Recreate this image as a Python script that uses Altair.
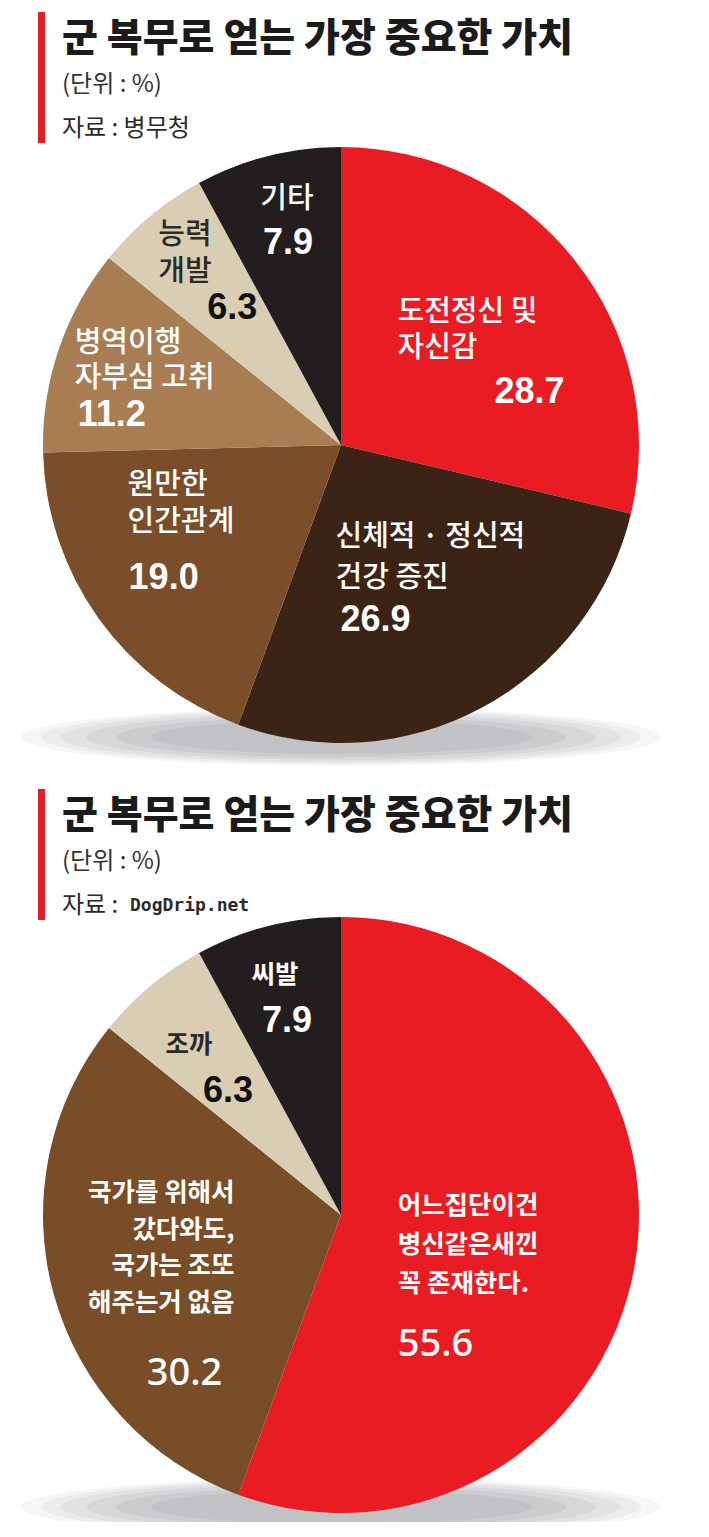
import altair as alt
import pandas as pd

# ---------------- data ----------------
title_text = "군 복무로 얻는 가장 중요한 가치"
unit_text = "(단위 : %)"
top_source_text = "자료 : 병무청"
source_prefix = "자료 : "
bot_source = "DogDrip.net"

top_names = ["도전정신 및\n자신감", "신체적 · 정신적\n건강 증진", "원만한\n인간관계",
             "병역이행\n자부심 고취", "능력\n개발", "기타"]
top_values = [28.7, 26.9, 19.0, 11.2, 6.3, 7.9]

bot_names = ["어느집단이건\n병신같은새낀\n꼭 존재한다.",
             "국가를 위해서\n갔다와도,\n국가는 조또\n해주는거 없음", "조까", "씨발"]
bot_values = [55.6, 30.2, 6.3, 7.9]

# ---------------- styles ----------------
top_colors = ["#E91C24", "#3B2415", "#7A4E2B", "#A87D54", "#D9CEB3", "#221E1F"]
bot_colors = ["#E91C24", "#7A4D29", "#D9CEB3", "#221E1F"]

W, H = 693, 1514
CX = 333
TOP_CY, BOT_CY, R = 437, 1207, 298
KR = "Noto Sans CJK KR"
NUM_BOLD = "Liberation Sans Narrow, Arial Narrow, Liberation Sans"
NUM_REG = "Noto Sans, Open Sans"
RED = "#E31E24"

# per-slice label layout: radius of anchor, name and value offsets
top_layout = [
    dict(r=160, n=dict(dx=-69, dy=-34, align="left", color="white", lh=36),
         v=dict(dx=63, dy=46, align="center", color="white")),
    dict(r=170, n=dict(dx=-86, dy=-58, align="left", color="white", lh=41),
         v=dict(dx=-81, dy=25, align="left", color="white")),
    dict(r=190, n=dict(dx=-59, dy=-71, align="left", color="white", lh=37),
         v=dict(dx=-58, dy=22, align="left", color="white")),
    dict(r=220, n=dict(dx=-58, dy=-31, align="left", color="white", lh=35),
         v=dict(dx=-55, dy=41, align="left", color="white")),
    dict(r=220, n=dict(dx=-42, dy=-41, align="left", color="#2a2a2a", lh=37),
         v=dict(dx=7, dy=32, align="left", color="#111111")),
    dict(r=220, n=dict(dx=0, dy=-33, align="center", color="white"),
         v=dict(dx=1, dy=11, align="center", color="white")),
]
bot_layout = [
    dict(r=150, n=dict(dx=-91, dy=-35, align="left", color="white", lh=39),
         v=dict(dx=-91, dy=104, align="left", color="white", font=NUM_REG, size=38, weight=500)),
    dict(r=180, n=dict(dx=67, dy=-70, align="right", color="white", lh=36.5),
         v=dict(dx=17, dy=111, align="center", color="white", font=NUM_REG, size=38, weight=500)),
    dict(r=200, n=dict(dx=-24, dy=-16, align="center", color="#2a2a2a"),
         v=dict(dx=15, dy=30, align="center", color="#111111")),
    dict(r=220, n=dict(dx=-12, dy=-27, align="center", color="white"),
         v=dict(dx=0, dy=19, align="center", color="white")),
]


def pie(names, values, colors, cy, layout, name_size, name_weight):
    df = pd.DataFrame({"idx": list(range(len(values))), "name": names,
                       "value": values, "color": colors})
    theta = alt.Theta("value:Q", stack=True)
    order = alt.Order("idx:Q", sort="ascending")
    layers = []
    # soft shadow under the pie
    ell = "M -1 0 A 1 0.09 0 1 1 1 0 A 1 0.09 0 1 1 -1 0 Z"
    for w, op in [(640, 0.06), (600, 0.07), (560, 0.08), (510, 0.09), (450, 0.10), (380, 0.10)]:
        layers.append(
            alt.Chart(pd.DataFrame({"s": [0]})).mark_point(
                shape=ell, filled=True, color="#6c6e78", opacity=op, size=w * w, strokeWidth=0
            ).encode(x=alt.value(CX), y=alt.value(cy + R - 6))
        )
    layers.append(
        alt.Chart(df).mark_arc(outerRadius=R, strokeWidth=0).encode(
            theta=theta, order=order,
            color=alt.Color("color:N", scale=None),
            x=alt.value(CX), y=alt.value(cy),
        )
    )
    for i, lay in enumerate(layout):
        n = lay["n"]
        layers.append(
            alt.Chart(df).transform_calculate(
                lbl=f"datum.idx == {i} ? datum.name : ''"
            ).mark_text(
                radius=lay["r"], dx=n["dx"], dy=n["dy"], align=n["align"], baseline="middle",
                lineBreak="\n", lineHeight=n.get("lh", 37), font=KR,
                fontSize=name_size, fontWeight=name_weight, color=n["color"],
            ).encode(theta=theta, order=order, text="lbl:N",
                     x=alt.value(CX), y=alt.value(cy))
        )
        v = lay["v"]
        layers.append(
            alt.Chart(df).transform_calculate(
                vl=f"datum.idx == {i} ? format(datum.value, '.1f') : ''"
            ).mark_text(
                radius=lay["r"], dx=v["dx"], dy=v["dy"], align=v["align"], baseline="middle",
                font=v.get("font", NUM_BOLD), fontSize=v.get("size", 36),
                fontWeight=v.get("weight", "bold"), color=v["color"],
            ).encode(theta=theta, order=order, text="vl:N",
                     x=alt.value(CX), y=alt.value(cy))
        )
    return layers


def header(y0, parts):
    one = pd.DataFrame({"t": [0]})
    ls = []
    ls.append(alt.Chart(one).mark_rect(color=RED).encode(
        x=alt.value(30), x2=alt.value(37), y=alt.value(y0), y2=alt.value(y0 + 131)))
    ls.append(alt.Chart(pd.DataFrame({"t": [title_text]})).mark_text(
        align="left", baseline="middle", font=KR, fontSize=39, fontWeight=900, color="#1b1b1b"
    ).encode(text="t:N", x=alt.value(54), y=alt.value(y0 + 27)))
    ls.append(alt.Chart(pd.DataFrame({"t": [unit_text]})).mark_text(
        align="left", baseline="middle", font=KR, fontSize=24, color="#333333"
    ).encode(text="t:N", x=alt.value(54), y=alt.value(y0 + 73)))
    for txt, dx, font, size, weight in parts:
        ls.append(alt.Chart(pd.DataFrame({"t": [txt]})).mark_text(
            align="left", baseline="middle", font=font, fontSize=size,
            fontWeight=weight, color="#2a2a2a"
        ).encode(text="t:N", x=alt.value(54 + dx), y=alt.value(y0 + 117)))
    return ls


layers = []
layers += header(4, [(top_source_text, 0, KR, 24, "normal")])
layers += pie(top_names, top_values, top_colors, TOP_CY, top_layout, 29, 500)
layers += header(781, [(source_prefix, 0, KR, 24, "normal"),
                       (bot_source, 68, "DejaVu Sans Mono", 18, "bold")])
layers += pie(bot_names, bot_values, bot_colors, BOT_CY, bot_layout, 25.5, "bold")

chart = alt.layer(*layers).properties(
    width=W, height=H, autosize="none", padding=0, background="white"
).configure_view(stroke=None)

chart.save("out.html", embed_options={"renderer": "svg", "actions": False})
